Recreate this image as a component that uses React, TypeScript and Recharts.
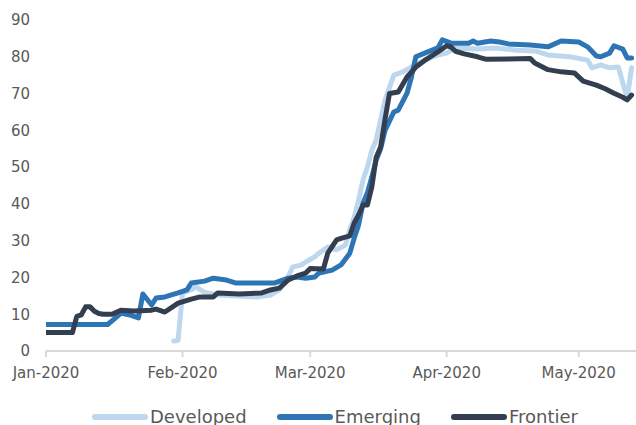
import React from "react";
import { LineChart, Line, XAxis, YAxis, Legend } from "recharts";

const FONT = "'DejaVu Sans', sans-serif";

// x = days since 1 Jan 2020
const monthTicks = [0, 31, 60, 91, 121];
const monthLabels = ["Jan-2020", "Feb-2020", "Mar-2020", "Apr-2020", "May-2020"];
const yTicks = [0, 10, 20, 30, 40, 50, 60, 70, 80, 90];

const developedDays = [29, 30, 31, 33, 34, 36, 39, 48, 51, 53, 55, 56, 58, 59, 61, 62, 64, 66, 68, 69, 70, 71, 72, 73, 74, 75, 77, 79, 81, 83, 86, 89, 91, 93, 98, 102, 107, 111, 114, 119, 123, 124, 126, 128, 130, 131, 132, 133];
const developedValues = [2.7, 2.9, 15.8, 16.6, 17.4, 16.0, 15.2, 14.7, 15.2, 16.6, 20.1, 22.8, 23.4, 24.2, 25.6, 26.6, 28.3, 27.5, 28.8, 32.9, 36.4, 41.0, 46.5, 50.0, 54.6, 57.4, 68.2, 75.0, 75.9, 77.2, 79.1, 80.5, 81.0, 82.4, 82.1, 82.4, 81.8, 81.6, 80.5, 80.0, 79.1, 77.0, 77.8, 77.0, 77.2, 72.9, 68.8, 77.0];

const emergingDays = [0, 14, 16, 17, 19, 21, 22, 24, 25, 27, 30, 32, 33, 36, 38, 41, 43, 52, 55, 57, 59, 61, 62, 65, 67, 69, 70, 71, 72, 73, 74, 75, 76, 77, 79, 80, 82, 83, 84, 86, 89, 90, 92, 96, 97, 98, 101, 103, 105, 110, 114, 117, 121, 123, 125, 126, 128, 129, 131, 132, 133];
const emergingValues = [7.2, 7.2, 9.2, 10.3, 9.8, 9.0, 15.5, 12.5, 14.4, 14.7, 15.8, 16.6, 18.5, 19.0, 19.8, 19.3, 18.5, 18.5, 19.8, 20.1, 19.8, 20.1, 21.2, 22.0, 23.4, 26.6, 30.7, 34.3, 40.2, 43.0, 47.3, 52.0, 55.0, 60.0, 65.0, 65.5, 70.1, 74.5, 80.0, 81.0, 82.4, 84.6, 83.7, 83.7, 84.3, 83.7, 84.3, 84.0, 83.5, 83.2, 82.7, 84.3, 84.0, 82.7, 80.2, 80.0, 81.0, 83.0, 82.1, 79.7, 79.7];

const frontierDays = [0, 6, 7, 8, 9, 10, 11, 12, 13, 15, 17, 20, 24, 25, 27, 29, 30, 33, 35, 38, 39, 44, 49, 51, 53, 55, 57, 59, 60, 63, 64, 66, 67, 69, 70, 71, 72, 73, 74, 75, 76, 77, 78, 80, 82, 84, 86, 89, 91, 92, 93, 95, 98, 100, 110, 111, 114, 117, 120, 122, 125, 127, 129, 131, 132, 133];
const frontierValues = [5.0, 5.0, 9.4, 9.8, 12.0, 12.0, 10.8, 10.2, 10.0, 10.0, 11.1, 10.9, 11.1, 11.4, 10.6, 12.2, 13.0, 14.1, 14.7, 14.7, 15.8, 15.5, 15.8, 16.6, 17.1, 19.3, 20.4, 21.2, 22.4, 22.3, 26.6, 30.2, 30.6, 31.3, 34.8, 37.0, 39.7, 39.7, 44.6, 52.7, 55.5, 63.0, 70.0, 70.4, 74.5, 77.2, 79.0, 81.3, 83.0, 82.6, 81.5, 80.8, 80.0, 79.3, 79.5, 78.3, 76.5, 75.9, 75.6, 73.4, 72.3, 71.3, 70.1, 69.0, 68.3, 69.6];

const toPoints = (days: number[], values: number[]) =>
  days.map((d, i) => ({ day: d, value: values[i] }));

const series = [
  { name: "Developed", color: "#bdd7ee", data: toPoints(developedDays, developedValues) },
  { name: "Emerging", color: "#2e75b6", data: toPoints(emergingDays, emergingValues) },
  { name: "Frontier", color: "#333f50", data: toPoints(frontierDays, frontierValues) },
];

const renderLegend = (props: any) => {
  const payload = props.payload || [];
  return (
    <div
      style={{
        display: "flex",
        alignItems: "center",
        height: 16,
        paddingLeft: 92,
        gap: 30,
        fontFamily: FONT,
        fontSize: 18,
        lineHeight: "16px",
        color: "#595959",
      }}
    >
      {payload.map((p: any) => (
        <div key={p.value} style={{ display: "flex", alignItems: "center", whiteSpace: "nowrap" }}>
          <svg width={56} height={16} style={{ display: "block" }}>
            <line x1={3} y1={8} x2={53} y2={8} stroke={p.color} strokeWidth={6} strokeLinecap="round" />
          </svg>
          <span style={{ marginLeft: 2 }}>{p.value}</span>
        </div>
      ))}
    </div>
  );
};

export default function App() {
  return (
    <div style={{ position: "absolute", left: 0, top: 0, width: 636, height: 425, background: "#fff" }}>
      <LineChart width={636} height={425} margin={{ top: 20, right: 0, left: 0, bottom: 0 }}>
        <XAxis
          type="number"
          dataKey="day"
          domain={[0, 134]}
          ticks={monthTicks}
          interval={0}
          allowDataOverflow
          tickFormatter={(v: number) => monthLabels[monthTicks.indexOf(v)]}
          height={58}
          tickSize={6}
          tickMargin={10}
          axisLine={{ stroke: "#d9d9d9", strokeWidth: 2 }}
          tickLine={{ stroke: "#d9d9d9", strokeWidth: 2 }}
          tick={{ fill: "#595959", fontSize: 15, fontFamily: FONT }}
        />
        <YAxis
          type="number"
          domain={[0, 90]}
          ticks={yTicks}
          interval={0}
          width={46}
          axisLine={false}
          tickLine={false}
          tickSize={0}
          tickMargin={16}
          tick={{ fill: "#595959", fontSize: 15, fontFamily: FONT }}
        />
        <Legend
          verticalAlign="bottom"
          content={renderLegend}
          wrapperStyle={{ left: 0, width: 636, bottom: 0, height: 16 }}
        />
        {series.map((s) => (
          <Line
            key={s.name}
            name={s.name}
            data={s.data}
            dataKey="value"
            type="linear"
            stroke={s.color}
            strokeWidth={5}
            strokeLinejoin="round"
            strokeLinecap="round"
            dot={false}
            activeDot={false}
            isAnimationActive={false}
          />
        ))}
      </LineChart>
    </div>
  );
}
